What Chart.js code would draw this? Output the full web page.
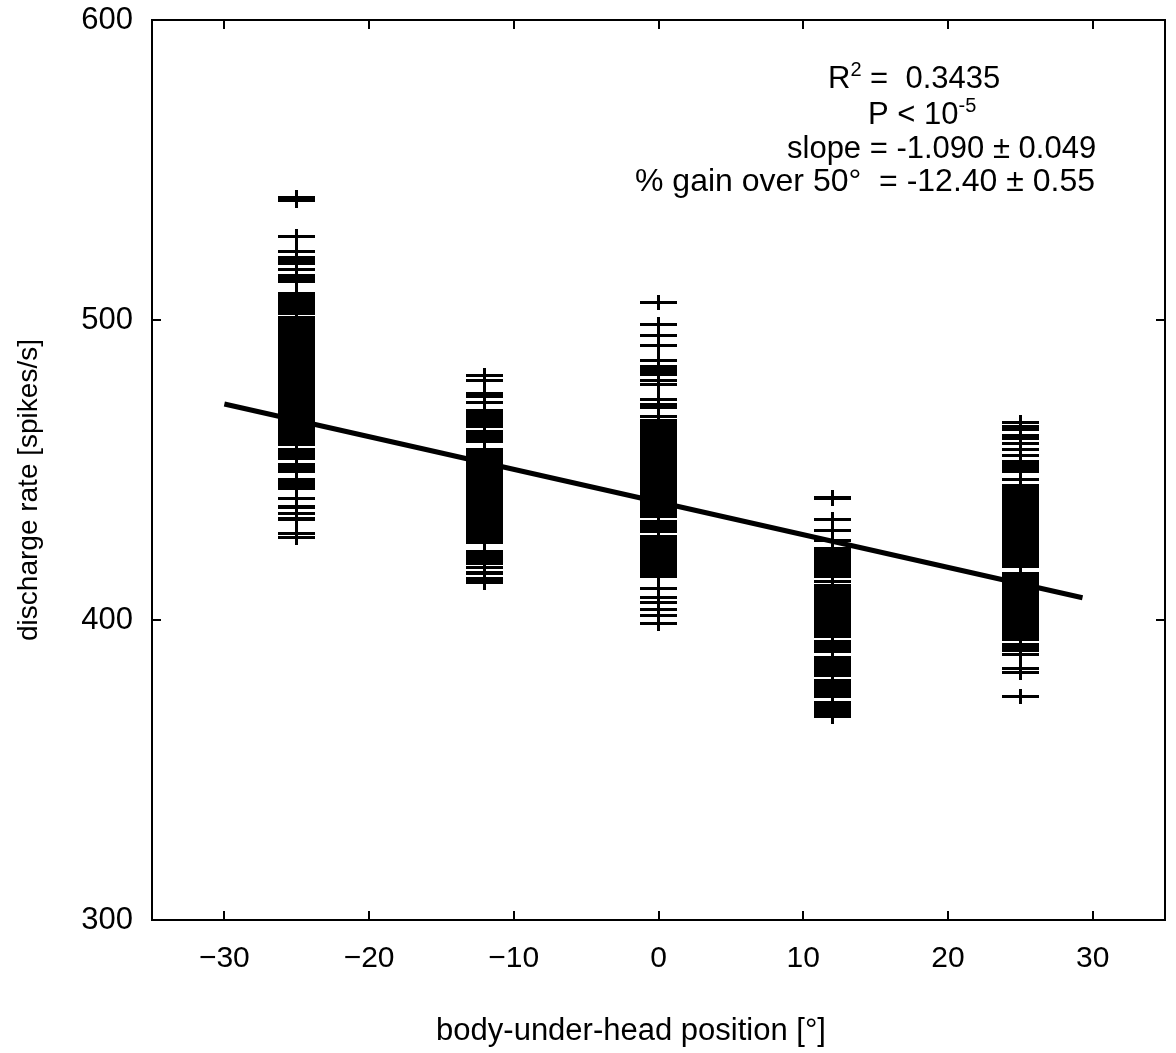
<!DOCTYPE html>
<html>
<head>
<meta charset="utf-8">
<script src="https://cdn.jsdelivr.net/npm/chart.js@4"></script>
<style>
  html, body { margin: 0; padding: 0; background: #fff; }
  #wrap { width: 1176px; height: 1053px; }
</style>
</head>
<body>
<div id="wrap"><canvas id="rateChart" width="1176" height="1053"></canvas></div>
<script>
// body-under-head positions (deg) of the five test conditions
const positions = [-25, -12, 0, 12, 25];

// discharge rates (spikes/s)
const ratesAtM25 = [541, 540, 528, 523, 521, 520, 519, 517, 515, 514, 513.5, 513,
  509, 508, 507, 505.8, 505, 504, 503, 502.2, 501, 500,
  499, 498, 497, 496, 495, 494, 493, 492, 491, 490,
  489, 488, 487, 486, 485, 484, 483, 482, 481, 480, 479, 478, 477, 476,
  475.5, 474.5, 473.5, 472.5, 471.5, 470.5, 469.5, 469,
  468, 467, 466, 465, 464, 463, 462, 461.5, 460.5, 459.5, 458.5,
  457, 456, 455, 454, 452, 451, 450, 449.5, 447, 446, 445, 444,
  440.5, 438, 437.5, 435.5, 434, 433.5, 429, 427.5];
const ratesAtM12 = [481.5, 480, 475.5, 474.5, 472.5,
  470, 469, 468, 467, 466, 465, 464.5, 463, 462, 461, 460, 459.5, 457, 456,
  455, 454, 453, 452, 451, 450, 449, 448, 447, 446, 445,
  444, 443, 442, 441, 440, 439, 438, 437, 436, 435, 434, 433, 432, 431, 430,
  429, 428, 427, 426, 423, 422, 421, 420, 419, 417.5, 416, 415.5, 414, 413.5, 412.5];
const ratesAt0 = [506, 498.5, 495, 491.5, 486.5, 484.5, 483.5, 483, 482, 480, 478.5,
  473.5, 472, 471, 468, 466.5, 465.5, 464.5, 464,
  463, 462, 461, 460, 459, 458, 457, 456, 455, 454.5,
  454, 453, 452, 451, 450, 449, 448, 447, 446, 445, 444, 443, 442, 441, 440,
  439, 438, 437, 436, 435, 434.5, 433, 432, 431, 430, 429.5,
  428, 427, 426, 425, 424, 423, 422, 421, 420, 419, 418, 417, 416, 415, 414.5,
  410.5, 407.5, 406, 403.5, 401.5, 399];
const ratesAt12 = [441, 440.5, 433.5, 430, 426.5, 424, 423, 422, 421,
  420, 419, 418, 417, 416, 415, 414.5, 413,
  411.5, 410.5, 409.5, 408.5, 407.5, 406.5, 405.5, 404.5, 403.5, 402.5, 401.5,
  400.5, 399.5, 398.5, 397.5, 396.5, 395.5, 394.5, 393, 392, 391, 390, 389.5,
  387.5, 386.5, 385.5, 384.5, 383.5, 382.5, 381.5,
  380, 379, 378, 377, 376, 375, 374.5, 372.5, 371.5, 370.5, 369.5, 368.5, 368];
const ratesAt25 = [466, 464.5, 463.5, 461.5, 460.5, 459, 457, 455,
  453, 452, 451, 450, 449.5, 447, 445, 444, 443, 442, 441, 440,
  439, 438, 437, 436, 435, 434, 433, 432, 431, 430, 429, 428, 427, 426,
  425, 424, 423, 422, 421, 420, 419, 418, 415.5, 414.5, 413.5,
  412.5, 411.5, 410.5, 409.5, 408.5, 408, 407, 406, 405, 404,
  403, 402, 401, 400, 399, 398, 397, 396, 395, 394, 393.5,
  392, 391, 390, 388.5, 384, 382.5, 374.5];

// regression line end points
const fitX = [-30, 29.3];
const fitY = [472.0, 407.4];

const xTicks = [-30, -20, -10, 0, 10, 20, 30];
const yTicks = [300, 400, 500, 600];

const statLines = [
  [['R', 0], ['2', 1], [' =  0.3435', 0]],
  [['P < 10', 0], ['-5', 1]],
  [['slope = -1.090 \u00b1 0.049', 0]],
  [['% gain over 50\u00b0  = -12.40 \u00b1 0.55', 0]]
];

const FONT = '"Liberation Sans", Arial, sans-serif';

const allRates = [ratesAtM25, ratesAtM12, ratesAt0, ratesAt12, ratesAt25];
const points = [];
allRates.forEach((list, i) => {
  list.forEach(r => points.push({ x: positions[i], y: r }));
});

function makeCross() {
  const c = document.createElement('canvas');
  c.width = 37; c.height = 15;
  const g = c.getContext('2d');
  g.fillStyle = '#000';
  g.fillRect(0, 6, 37, 3);
  g.fillRect(17, 0, 3, 15);
  return c;
}

const frame = {
  id: 'frame',
  beforeDatasetsDraw(chart) {
    chart.ctx.imageSmoothingEnabled = false;
  },
  afterDatasetsDraw(chart) {
    const { ctx, chartArea: a, scales } = chart;
    ctx.save();
    ctx.strokeStyle = '#000';
    ctx.lineWidth = 2;
    ctx.strokeRect(a.left, a.top, a.right - a.left, a.bottom - a.top);
    ctx.beginPath();
    xTicks.forEach(v => {
      const px = Math.round(scales.x.getPixelForValue(v));
      ctx.moveTo(px, a.bottom); ctx.lineTo(px, a.bottom - 9);
      ctx.moveTo(px, a.top); ctx.lineTo(px, a.top + 9);
    });
    yTicks.forEach(v => {
      const py = Math.round(scales.y.getPixelForValue(v));
      ctx.moveTo(a.left, py); ctx.lineTo(a.left + 9, py);
      ctx.moveTo(a.right, py); ctx.lineTo(a.right - 9, py);
    });
    ctx.stroke();

    // axis titles
    ctx.fillStyle = '#000';
    ctx.font = '31px ' + FONT;
    ctx.textAlign = 'center';
    ctx.textBaseline = 'alphabetic';
    ctx.fillText('body-under-head position [\u00b0]', 631, 1040);
    ctx.font = '28px ' + FONT;
    ctx.save();
    ctx.translate(37, 490);
    ctx.rotate(-Math.PI / 2);
    ctx.fillText('discharge rate [spikes/s]', 0, 0);
    ctx.restore();

    // fit statistics
    const lefts = [828, 868, 787, 635];
    const sizes = [31, 31, 31, 32];
    const bases = [88, 124, 158, 191];
    ctx.textAlign = 'left';
    statLines.forEach((segs, i) => {
      let x = lefts[i];
      segs.forEach(([t, sup]) => {
        ctx.font = (sup ? 20 : sizes[i]) + 'px ' + FONT;
        ctx.fillText(t, x, bases[i] - (sup ? 12 : 0));
        x += ctx.measureText(t).width;
      });
    });
    ctx.restore();
  }
};

const ctx = document.getElementById('rateChart').getContext('2d');
new Chart(ctx, {
  type: 'scatter',
  data: {
    datasets: [{
      type: 'line',
      label: 'fit',
      data: fitX.map((x, i) => ({ x, y: fitY[i] })),
      borderColor: '#000',
      borderWidth: 5,
      pointRadius: 0,
      fill: false,
      order: 0
    }, {
      label: 'discharge rate',
      data: points,
      pointStyle: makeCross(),
      pointRadius: 10,
      order: 1
    }]
  },
  options: {
    responsive: false,
    animation: false,
    devicePixelRatio: 1,
    layout: { padding: { left: 0, right: 10, top: 20, bottom: 0 } },
    plugins: { legend: { display: false }, tooltip: { enabled: false } },
    scales: {
      x: {
        type: 'linear',
        min: -35, max: 35,
        afterBuildTicks: s => { s.ticks = xTicks.map(v => ({ value: v })); },
        afterFit: s => { s.height = 133; s.paddingLeft = 0; s.paddingRight = 0; },
        grid: { display: false, drawTicks: false },
        border: { display: false },
        ticks: {
          color: '#000',
          font: { family: FONT, size: 30 },
          padding: 21,
          maxRotation: 0,
          callback: v => (v < 0 ? '\u2212' + Math.abs(v) : String(v))
        }
      },
      y: {
        type: 'linear',
        min: 300, max: 600,
        afterBuildTicks: s => { s.ticks = yTicks.map(v => ({ value: v })); },
        afterFit: s => { s.width = 152; s.paddingTop = 0; s.paddingBottom = 0; },
        grid: { display: false, drawTicks: false },
        border: { display: false },
        ticks: {
          color: '#000',
          font: { family: FONT, size: 31 },
          padding: 19
        }
      }
    }
  },
  plugins: [frame]
});
</script>
</body>
</html>
